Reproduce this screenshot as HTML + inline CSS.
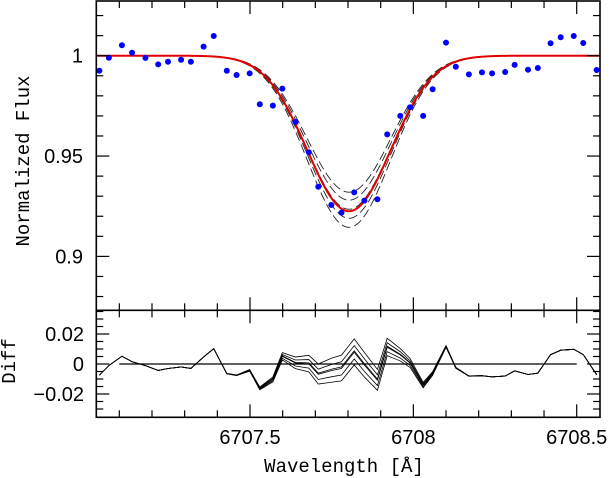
<!DOCTYPE html>
<html><head><meta charset="utf-8">
<style>
html,body{margin:0;padding:0;background:#fff;}
svg{display:block;}
text{font-family:"Liberation Sans",sans-serif;font-size:20px;fill:#000;}
.ttl{font-family:"Liberation Mono",monospace;font-size:19px;}
</style></head>
<body>
<svg id="chart" width="611" height="478" viewBox="0 0 611 478" xmlns="http://www.w3.org/2000/svg"></svg>
<script>
// ---- data ----
const wavelengths = [6707.039,6707.068,6707.108,6707.139,6707.180,6707.219,6707.249,6707.289,6707.319,6707.358,6707.389,6707.429,6707.459,6707.499,6707.530,6707.570,6707.599,6707.639,6707.680,6707.709,6707.749,6707.780,
 6707.819,6707.850,6707.890,6707.920,6707.960,6707.990,6708.030,6708.059,6708.100,6708.130,6708.170,6708.210,6708.241,6708.281,6708.310,6708.351,6708.381,6708.420,6708.451,6708.491,6708.520,6708.561];
const fluxes = [0.9925,0.999,1.0052,1.0015,0.9989,0.9957,0.997,0.998,0.997,1.0045,1.0098,0.9925,0.9904,0.9912,0.9758,0.9751,0.9836,0.967,0.9519,0.9347,0.9256,0.9218,
 0.9319,0.9278,0.9285,0.9608,0.970,0.9743,0.970,0.9833,1.0065,0.9945,0.9907,0.9917,0.9912,0.9919,0.9954,0.993,0.9939,1.0062,1.0092,1.0098,1.0063,0.9929];
const bestDepth = [0.0775];
const modelDepths = [0.068,0.072,0.0765,0.081,0.0855];
const lineCenter = [6707.803];
const lineSigma = [0.128];
const xTicks = [6707.5,6708,6708.5];
const xTickLabels = ["6707.5","6708","6708.5"];
const yTicksTop = [1,0.95,0.9];
const yTickLabelsTop = ["1","0.95","0.9"];
const yTicksBot = [0.02,0,-0.02];
const yTickLabelsBot = ["0.02","0","\u22120.02"];

// ---- axes ----
const L=96.3,R=600,T=1,MID=310.3,B=417.3;
const X0=6707.5,PX=326.7,XC=250;
const xs=w=>XC+(w-X0)*PX;
const ysTop=f=>55.7-(f-1)*2007;
const ysBot=d=>364-d*1500;
const NS="http://www.w3.org/2000/svg";
const svg=document.getElementById('chart');
function mk(tag,attrs,parent){const e=document.createElementNS(NS,tag);for(const k in attrs)e.setAttribute(k,attrs[k]);(parent||svg).appendChild(e);return e;}
function model(w,d){return 1-d*Math.exp(-Math.pow(w-lineCenter[0],2)/(2*lineSigma[0]*lineSigma[0]));}

const defs=mk('defs',{});
const c1=mk('clipPath',{id:'ct'},defs);mk('rect',{x:L,y:T,width:R-L,height:MID-T},c1);
const c2=mk('clipPath',{id:'cb'},defs);mk('rect',{x:L,y:MID,width:R-L,height:B-MID},c2);

const gTop=mk('g',{'clip-path':'url(#ct)'});


const gBot=mk('g',{'clip-path':'url(#cb)'});



const wmin=6707.0,wmax=6708.6;
function curvePath(d){let p='';for(let w=wmin;w<=wmax+1e-9;w+=0.005){p+=(p?'L':'M')+xs(w).toFixed(2)+','+ysTop(model(w,d)).toFixed(2);}return p;}
modelDepths.forEach((d,i)=>{
  const e=mk('path',{d:curvePath(d),fill:'none',stroke:'#222','stroke-width':0.9,'stroke-dasharray':'9,4'},gTop);
  
  
});
const bf=mk('path',{d:curvePath(bestDepth[0]),fill:'none',stroke:'#e00000','stroke-width':2},gTop);



wavelengths.forEach((w,i)=>{
  const c=mk('circle',{cx:xs(w),cy:ysTop(fluxes[i]),r:3,fill:'#0000ff'},gTop);
  
  
});

mk('line',{x1:xs(6707.1),x2:xs(6708.5),y1:ysBot(0),y2:ysBot(0),stroke:'#000','stroke-width':1.2},gBot);
[bestDepth[0]].concat(modelDepths).forEach((d,i)=>{
  let p='';wavelengths.forEach((w,j)=>{p+=(p?'L':'M')+xs(w).toFixed(2)+','+ysBot(fluxes[j]-model(w,d)).toFixed(2);});
  const e=mk('path',{d:p,fill:'none',stroke:'#000','stroke-width':0.8},gBot);
  
  
});

const fr=mk('rect',{x:L,y:T,width:R-L,height:B-T,fill:'none',stroke:'#000','stroke-width':1.6});


mk('line',{x1:L,x2:R,y1:MID,y2:MID,stroke:'#000','stroke-width':1.6});

const tk=mk('g',{stroke:'#000','stroke-width':1.2});
for(let k=1;k<=15;k++){
  const w=6707.0+k*0.1;const x=xs(w);if(x>R)break;
  const major=Math.abs(w*2-Math.round(w*2))<1e-6;const len=major?13:7;
  mk('line',{x1:x,x2:x,y1:T,y2:T+len},tk);
  mk('line',{x1:x,x2:x,y1:MID,y2:MID-len},tk);
  mk('line',{x1:x,x2:x,y1:MID,y2:MID+len},tk);
  mk('line',{x1:x,x2:x,y1:B,y2:B-len},tk);
}
for(let k=0;k<=15;k++){
  const f=0.87+k*0.01;const y=ysTop(f);if(y<T||y>MID)continue;
  const major=Math.abs(f*20-Math.round(f*20))<1e-6;const len=major?13:7;
  mk('line',{x1:L,x2:L+len,y1:y,y2:y},tk);mk('line',{x1:R,x2:R-len,y1:y,y2:y},tk);
}
for(let k=-7;k<=7;k++){
  const d=k*0.005;const y=ysBot(d);if(y<MID+1||y>B-1)continue;
  const major=k%4===0;const len=major?13:7;
  mk('line',{x1:L,x2:L+len,y1:y,y2:y},tk);mk('line',{x1:R,x2:R-len,y1:y,y2:y},tk);
}

xTicks.forEach((w,i)=>{
  const t=mk('text',{x:Math.min(xs(w),609-32),y:444,'text-anchor':'middle'});t.textContent=xTickLabels[i];
  
});
yTicksTop.forEach((f,i)=>{
  const t=mk('text',{x:83,y:ysTop(f)+7,'text-anchor':'end'});t.textContent=yTickLabelsTop[i];
  
});
yTicksBot.forEach((d,i)=>{
  const t=mk('text',{x:84,y:ysBot(d)+7,'text-anchor':'end'});t.textContent=yTickLabelsBot[i];
  
});
const xt=mk('text',{x:344,y:472,'text-anchor':'middle','class':'ttl'});xt.textContent='Wavelength [Å]';

const yt=mk('text',{x:0,y:0,'text-anchor':'middle','class':'ttl',transform:'translate(29,161) rotate(-90)'});yt.textContent='Normalized Flux';

const dt=mk('text',{x:0,y:0,'text-anchor':'middle','class':'ttl',transform:'translate(15,361) rotate(-90)'});dt.textContent='Diff';

</script>
</body></html>
